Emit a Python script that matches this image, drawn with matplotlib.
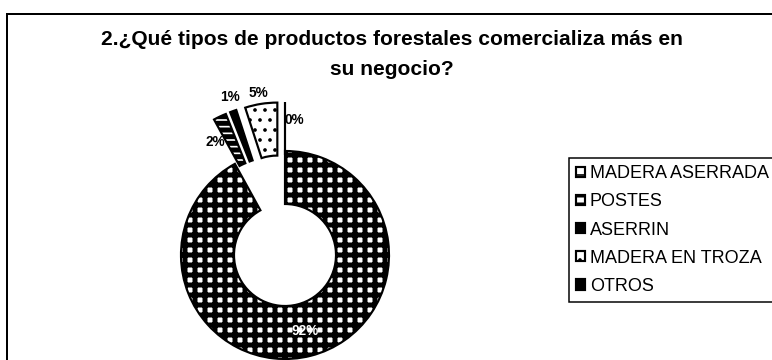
import matplotlib
matplotlib.use('Agg')
import matplotlib.pyplot as plt
from matplotlib.patches import Rectangle

# datos de la encuesta
productos = ['MADERA ASERRADA', 'POSTES', 'ASERRIN', 'MADERA EN TROZA', 'OTROS']
porcentajes = [92, 2, 1, 5, 0]
titulo = ['2.¿Qué tipos de productos forestales comercializa más en', 'su negocio?']

plt.rcParams['font.family'] = ['Liberation Sans', 'DejaVu Sans']

DPI = 120
W, H = 772, 360
fig = plt.figure(figsize=(W / DPI, H / DPI), dpi=DPI)
ax = fig.add_axes([0, 0, 1, 1])

def py(y):
    # pixel desde arriba -> coordenada del eje
    return H - y

# ---------- dona ----------
colores = ['white', 'white', 'black', 'white', 'black']
tramas = ['++', '---', '', '..', '']
grosor_trama = [3.0, 3.0, 1.0, 1.0, 1.0]
separar = [0, 49, 49, 49, 49]

wedges, _ = ax.pie(porcentajes, startangle=90, counterclock=False,
                   radius=104, center=(285, py(255)), explode=separar,
                   colors=colores, hatch=tramas,
                   wedgeprops=dict(width=53, edgecolor='black', linewidth=1.3))
for w, lw in zip(wedges, grosor_trama):
    if hasattr(w, 'set_hatch_linewidth'):
        w.set_hatch_linewidth(lw)

# etiquetas de porcentaje
pos_etiquetas = [(305, 331), (215, 142), (230, 97), (258, 93), (294, 120)]
color_etiquetas = ['white', 'black', 'black', 'black', 'black']
for v, (x, y), c in zip(porcentajes, pos_etiquetas, color_etiquetas):
    ax.text(x, py(y), f'{v}%', ha='center', va='center', fontsize=8.2,
            fontweight='bold', color=c)

ax.set_xlim(0, W)
ax.set_ylim(0, H)
ax.set_aspect('auto')
ax.axis('off')

# ---------- titulo ----------
ax.text(392, py(45), titulo[0], ha='center', va='baseline', fontsize=12.6,
        fontweight='bold')
ax.text(392, py(75), titulo[1], ha='center', va='baseline', fontsize=12.6,
        fontweight='bold')

# ---------- marco ----------
ax.add_patch(Rectangle((7, -20), 900, py(14) + 20, fill=False,
                       edgecolor='black', linewidth=1.2))

# ---------- leyenda ----------
leg = ax.legend(wedges, productos, loc='upper left',
                bbox_to_anchor=(569, py(158)), bbox_transform=ax.transData,
                frameon=True, fancybox=False, edgecolor='black', framealpha=1,
                fontsize=10.8, handlelength=0.5, handleheight=0.5,
                handletextpad=0.25, labelspacing=0.62, borderpad=0.4,
                borderaxespad=0)
leg.get_frame().set_linewidth(0.9)

fig.savefig('out.png', dpi=DPI)
